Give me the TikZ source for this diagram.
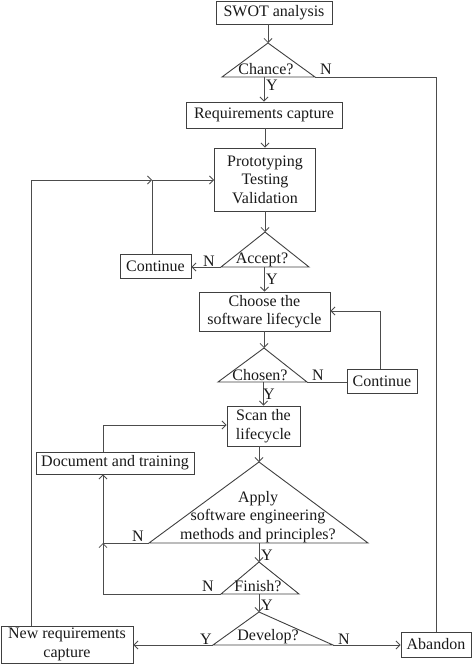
\documentclass[tikz,border=0pt]{standalone}
\usepackage{fontspec}
\setmainfont{Liberation Serif}
\usetikzlibrary{arrows.meta}
\begin{document}
\begin{tikzpicture}[x=1pt,y=-1pt,
  ln/.style={draw=black!70, line width=0.8pt},
  box/.style={draw=black!75, line width=0.9pt, inner sep=0pt, align=center,
    text=black!90, font=\fontsize{16}{18.5}\selectfont},
  lbl/.style={inner sep=0pt, anchor=base, align=center, text=black!90,
    font=\fontsize{16}{18.5}\selectfont},
  arr/.style={ln, -{Straight Barb[length=4pt,width=8pt]}},
  tri/.style={draw=black!75, line width=0.9pt}
]
\useasboundingbox (0,0) rectangle (474,666);

% boxes
\node[box, minimum width=116pt, minimum height=23pt] (swot) at (274,12.5) {SWOT analysis};
\node[box, minimum width=156pt, minimum height=26pt] (req) at (264,115) {Requirements capture};
\node[box, minimum width=101pt, minimum height=63pt] (proto) at (265,179.5) {Prototyping\\Testing\\Validation};
\node[box, minimum width=71pt, minimum height=24pt] (cont1) at (155.5,266) {Continue};
\node[box, minimum width=131pt, minimum height=39pt] (choose) at (264.5,311.5) {Choose the\\software lifecycle};
\node[box, minimum width=70pt, minimum height=24pt] (cont2) at (382,381) {Continue};
\node[box, minimum width=73pt, minimum height=40pt] (scan) at (263.5,426) {Scan the\\lifecycle};
\node[box, minimum width=158pt, minimum height=22pt] (doc) at (115,463) {Document and training};
\node[box, minimum width=132pt, minimum height=37pt] (newreq) at (67,644.5) {New requirements\\capture};
\node[box, minimum width=70pt, minimum height=25pt] (abandon) at (436,644.5) {Abandon};

% triangles
\coordinate (cha) at (268,43);  \coordinate (chl) at (222,77);  \coordinate (chr) at (315,77);
\coordinate (aca) at (265,232); \coordinate (acl) at (221,267); \coordinate (acr) at (309,267);
\coordinate (csa) at (264,348); \coordinate (csl) at (218,382); \coordinate (csr) at (307,382);
\coordinate (apa) at (259,462); \coordinate (apl) at (149,543); \coordinate (apr) at (368,543);
\coordinate (fia) at (259,562); \coordinate (fil) at (221,594); \coordinate (fir) at (299,594);
\coordinate (dea) at (259,612); \coordinate (del) at (213,645); \coordinate (der) at (333,645);
\draw[tri] (cha) -- (chl) -- (chr) -- cycle;
\draw[tri] (aca) -- (acl) -- (acr) -- cycle;
\draw[tri] (csa) -- (csl) -- (csr) -- cycle;
\draw[tri] (apa) -- (apl) -- (apr) -- cycle;
\draw[tri] (fia) -- (fil) -- (fir) -- cycle;
\draw[tri] (dea) -- (del) -- (der) -- cycle;

\node[lbl] (tcha) at (266,75) {Chance?};
\node[lbl] (tacc) at (262,263) {Accept?};
\node[lbl] (tcho) at (260,380) {Chosen?};
\node[lbl] (tapp) at (258,539) {Apply\\software engineering\\methods and principles?};
\node[lbl] (tfin) at (258,591.5) {Finish?};
\node[lbl] (tdev) at (268,640) {Develop?};

% junction points
\coordinate (j0) at (31,180);
\coordinate (j1) at (152,180);
\coordinate (j2) at (380,311);
\coordinate (j3) at (103,425);
\coordinate (j4) at (103,543);

% connectors
\draw[arr] (swot.south -| cha) -- (cha);
\draw[arr] (req.north |- chl) -- (req.north);
\draw[ln] (chr) -- (chr -| abandon.north) -- (abandon.north);
\draw[arr] (proto.north |- req.south) -- (proto.north);
\draw[arr] (proto.south) -- (aca);
\draw[arr] (acl) -- (acl -| cont1.east);
\draw[arr] (cont1.north -| j1) -- (j1) -- (j1 -| proto.west);
\draw[arr] (newreq.north -| j0) -- (j0) -- (j1);
\draw[arr] (choose.north |- acl) -- (choose.north);
\draw[arr] (choose.south -| csa) -- (csa);
\draw[ln] (csr) -- (csr -| cont2.west);
\draw[arr] (cont2.north -| j2) -- (j2) -- (j2 -| choose.east);
\draw[arr] (scan.north |- csl) -- (scan.north);
\draw[arr] (scan.south -| apa) -- (apa);
\draw[arr] (doc.north -| j3) -- (j3) -- (j3 -| scan.west);
\draw[ln] (apl) -- (j4);
\draw[arr] (fil) -- (fil -| j4) -- (j4);
\draw[arr] (j4) -- (doc.south -| j4);
\draw[arr] (apa |- apl) -- (fia);
\draw[arr] (fia |- fil) -- (dea);
\draw[arr] (del) -- (del -| newreq.east);
\draw[arr] (der) -- (der -| abandon.west);

% Y / N labels
\node[lbl] (n1) at (326,75) {N};
\node[lbl] (y1) at (272,91) {Y};
\node[lbl] (n2) at (209,266) {N};
\node[lbl] (y2) at (272,284) {Y};
\node[lbl] (n3) at (318,380) {N};
\node[lbl] (y3) at (269,399) {Y};
\node[lbl] (n4) at (138,541.5) {N};
\node[lbl] (y4) at (267,560) {Y};
\node[lbl] (n5) at (208,591.5) {N};
\node[lbl] (y5) at (267,610) {Y};
\node[lbl] (y6) at (206,644) {Y};
\node[lbl] (n6) at (344,644) {N};
\end{tikzpicture}
\end{document}
